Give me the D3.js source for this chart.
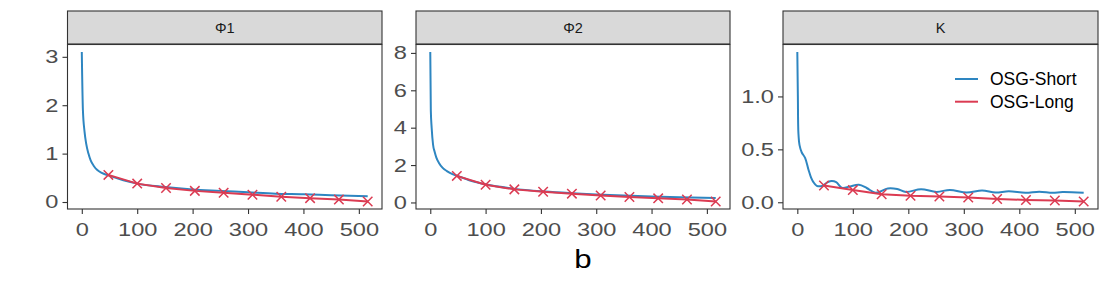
<!DOCTYPE html>
<html><head><meta charset="utf-8">
<script src="https://cdn.jsdelivr.net/npm/d3@7"></script>
<style>
body{margin:0;background:#fff;}
svg{display:block;font-family:"Liberation Sans",Arial,sans-serif;}
</style></head>
<body><svg id="chart" width="1109" height="290"></svg>
<script>
// ---- data ----
const panels = ["\u03A61", "\u03A62", "K"];
const seriesNames = ["OSG-Short", "OSG-Long"];
const longB = [48, 100, 152, 204, 256, 308, 360, 412, 464, 516];
const longPhi1 = [0.56, 0.38, 0.29, 0.23, 0.19, 0.15, 0.11, 0.08, 0.05, 0.01];
const longPhi2 = [1.42, 0.95, 0.70, 0.57, 0.47, 0.37, 0.29, 0.22, 0.16, 0.05];
const longK = [0.158, 0.115, 0.076, 0.062, 0.055, 0.045, 0.031, 0.022, 0.016, 0.007];

const shortBPhi1 = [0, 2, 5, 8, 12, 16, 22, 28, 36, 48, 75, 100, 150, 200, 250, 300, 350, 400, 450, 516];
const shortPhi1 = [3.1, 1.9, 1.45, 1.2, 1.0, 0.86, 0.74, 0.66, 0.6, 0.55, 0.45, 0.38, 0.31, 0.26, 0.23, 0.2, 0.17, 0.16, 0.14, 0.12];
const shortBPhi2 = [0, 1, 2.5, 5, 8, 11, 16, 22, 30, 40, 48, 75, 100, 150, 200, 250, 300, 350, 400, 450, 516];
const shortPhi2 = [8.05, 4.9, 4.0, 3.1, 2.7, 2.4, 2.1, 1.86, 1.68, 1.52, 1.43, 1.15, 0.97, 0.74, 0.6, 0.51, 0.43, 0.37, 0.32, 0.28, 0.24];
const shortBK = [0, 1, 2, 4, 8, 14, 20, 25, 29, 35, 45, 55, 62, 70, 81, 95, 111, 125, 141, 163, 180, 196, 223, 251, 275, 305, 333, 357, 381, 411, 436, 460, 478, 516];
const shortK = [1.42, 1.0, 0.65, 0.54, 0.47, 0.42, 0.31, 0.23, 0.19, 0.155, 0.155, 0.19, 0.2, 0.19, 0.135, 0.15, 0.165, 0.135, 0.09, 0.13, 0.125, 0.098, 0.123, 0.098, 0.117, 0.092, 0.111, 0.092, 0.104, 0.09, 0.1, 0.09, 0.097, 0.09];

const xTicks = [0, 100, 200, 300, 400, 500];
const yTicks = [[0, 1, 2, 3], [0, 2, 4, 6, 8], [0, 0.5, 1.0]];
const yFormats = [d3.format("d"), d3.format("d"), d3.format(".1f")];
const xTitle = "b";

const shortSets = [[shortBPhi1, shortPhi1], [shortBPhi2, shortPhi2], [shortBK, shortK]];
const longSets = [longPhi1, longPhi2, longK];

// ---- layout ----
const colors = {short: "#2E86C1", long: "#DB3B52"};
const panelX = [[67.5, 382], [416, 730], [783, 1098]];
const stripTop = 11, stripBot = 44, plotTop = 44.5, plotBot = 209;
const svg = d3.select("#chart");
const SX = 1.27;

function expand(ext) { const d = (ext[1] - ext[0]) * 0.05; return [ext[0] - d, ext[1] + d]; }

const xDomain = expand([0, 516]);

panels.forEach((name, i) => {
  const [x0, x1] = panelX[i];
  const x = d3.scaleLinear().domain(xDomain).range([x0, x1]);
  const sb = shortSets[i][0], sv = shortSets[i][1], lv = longSets[i];
  const ext = d3.extent(sv.concat(lv));
  const y = d3.scaleLinear().domain(expand(ext)).range([plotBot, plotTop]);

  // strip
  svg.append("rect").attr("x", x0).attr("y", stripTop).attr("width", x1 - x0).attr("height", stripBot - stripTop)
    .attr("fill", "#D9D9D9").attr("stroke", "#333333").attr("stroke-width", 1.1);
  svg.append("text").attr("x", (x0 + x1) / 2).attr("y", 33).attr("text-anchor", "middle")
    .attr("font-size", 14.5).attr("fill", "#1A1A1A").text(name);

  const g = svg.append("g");
  g.append("clipPath").attr("id", "clip" + i).append("rect")
    .attr("x", x0).attr("y", plotTop).attr("width", x1 - x0).attr("height", plotBot - plotTop);

  const curve = i === 2 ? d3.curveCatmullRom.alpha(0.5) : d3.curveMonotoneX;
  const line = d3.line().x(d => x(d[0])).y(d => y(d[1])).curve(curve);
  const shortData = sb.map((b, k) => [b, sv[k]]);
  const longData = longB.map((b, k) => [b, lv[k]]);
  const pg = g.append("g").attr("clip-path", `url(#clip${i})`);
  pg.append("path").datum(shortData).attr("d", line).attr("fill", "none")
    .attr("stroke", colors.short).attr("stroke-width", 2).attr("stroke-linejoin", "round");
  pg.append("path").datum(longData).attr("d", d3.line().x(d => x(d[0])).y(d => y(d[1])))
    .attr("fill", "none").attr("stroke", colors.long).attr("stroke-width", 2);
  const sym = d3.symbol().type(d3.symbolX).size(60);
  g.selectAll(".m" + i).data(longData).enter().append("path")
    .attr("transform", d => `translate(${x(d[0])},${y(d[1])})`)
    .attr("d", sym).attr("fill", "none").attr("stroke", colors.long).attr("stroke-width", 1.5);

  // panel border
  svg.append("rect").attr("x", x0).attr("y", plotTop).attr("width", x1 - x0).attr("height", plotBot - plotTop)
    .attr("fill", "none").attr("stroke", "#333333").attr("stroke-width", 1.1);

  // axes
  const xa = svg.append("g").attr("transform", `translate(0,${plotBot})`)
    .call(d3.axisBottom(x).tickValues(xTicks).tickSize(5).tickPadding(9).tickFormat(d3.format("d")));
  const ya = svg.append("g").attr("transform", `translate(${x0},0)`)
    .call(d3.axisLeft(y).tickValues(yTicks[i]).tickSize(5).tickPadding(4).tickFormat(yFormats[i]));
  [xa, ya].forEach(a => {
    a.select(".domain").remove();
    a.selectAll(".tick line").attr("stroke", "#333333").attr("stroke-width", 1.1);
    a.selectAll(".tick text").attr("font-size", 18.6).attr("fill", "#4D4D4D")
      .attr("font-family", "Liberation Sans, Arial, sans-serif");
  });
  xa.selectAll(".tick text").attr("transform", `scale(${SX},1)`);
  ya.selectAll(".tick text").each(function () {
    const t = d3.select(this); const xx = +t.attr("x");
    t.attr("x", 0).attr("transform", `translate(${xx},0) scale(${SX},1)`);
  });

  if (i === 2) {
    const leg = svg.append("g");
    seriesNames.forEach((s, k) => {
      const ly = 79 + k * 22.7;
      leg.append("line").attr("x1", 955).attr("x2", 978).attr("y1", ly).attr("y2", ly)
        .attr("stroke", k === 0 ? colors.short : colors.long).attr("stroke-width", 2);
      leg.append("text").attr("x", 990).attr("y", ly + 6.3).attr("font-size", 17.5)
        .attr("fill", "#000").text(s);
    });
  }
});

svg.append("text").attr("transform", `translate(583,268) scale(1.25,1)`).attr("text-anchor", "middle")
  .attr("font-size", 25).attr("fill", "#000").text(xTitle);
</script></body></html>
